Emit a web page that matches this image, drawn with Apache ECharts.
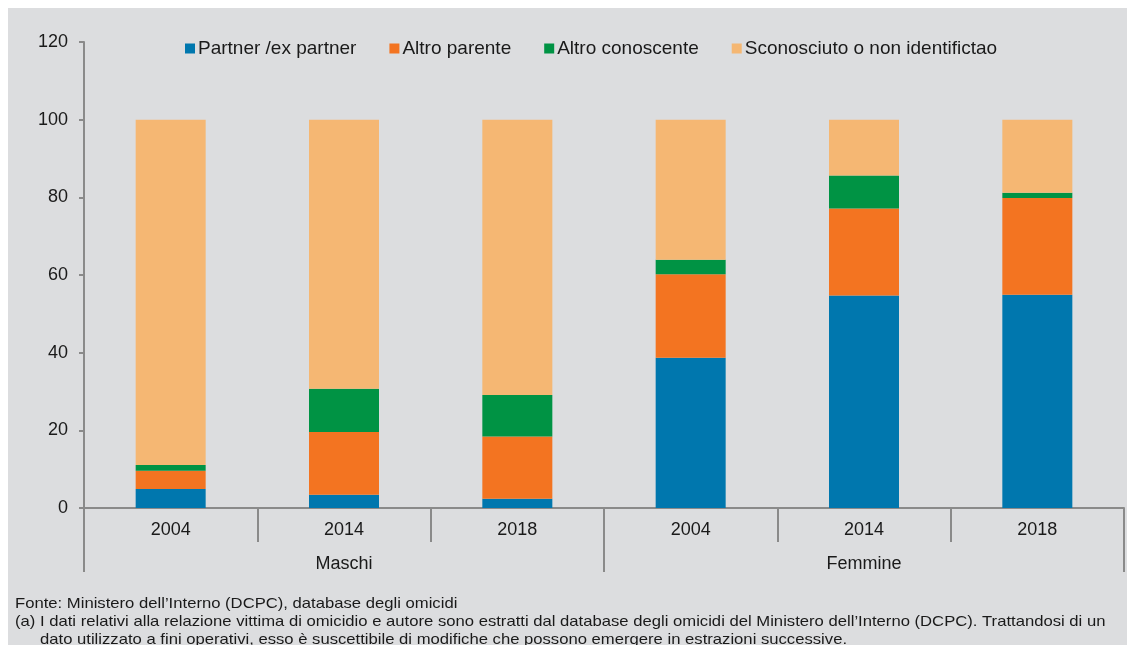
<!DOCTYPE html>
<html>
<head>
<meta charset="utf-8">
<script src="https://cdn.jsdelivr.net/npm/echarts@6/dist/echarts.min.js"></script>
<style>
  html, body { margin: 0; padding: 0; background: #ffffff; }
  #chart { position: absolute; left: 0; top: 0; width: 1127px; height: 645px; }
</style>
</head>
<body>
<div id="chart"></div>
<script>
// Relationship between victim and author of homicide, % by sex and year
const years = ['2004', '2014', '2018', '2004', '2014', '2018'];
const groups = ['Maschi', 'Femmine'];
const seriesNames = ['Partner /ex partner', 'Altro parente', 'Altro conoscente', 'Sconosciuto o non identifictao'];
const partner = [4.9, 3.4, 2.4, 38.7, 54.7, 54.9];
const altroParente = [4.7, 16.2, 16.0, 21.5, 22.4, 24.9];
const altroConoscente = [1.5, 11.1, 10.7, 3.7, 8.5, 1.4];
const sconosciuto = [88.9, 69.3, 70.9, 36.1, 14.4, 18.8];
const yTicks = [0, 20, 40, 60, 80, 100, 120];
const notes = [
  'Fonte: Ministero dell\u2019Interno (DCPC), database degli omicidi',
  '(a) I dati relativi alla relazione vittima di omicidio e autore sono estratti dal database degli omicidi del Ministero dell\u2019Interno (DCPC). Trattandosi di un',
  'dato utilizzato a fini operativi, esso \u00e8 suscettibile di modifiche che possono emergere in estrazioni successive.'
];

const colors = ['#0077ae', '#f37421', '#009344', '#f5b773'];
const values = [partner, altroParente, altroConoscente, sconosciuto];
const axisGray = '#8a8a8a';
const textColor = '#1a1a1a';
const font = 'Liberation Sans, Arial, sans-serif';

const chart = echarts.init(document.getElementById('chart'), null, { renderer: 'canvas' });

// footnote lines: x offset and top for each line
const noteX = [15, 15, 40];
const noteY = [596, 614, 632];
const noteGraphics = notes.map((t, i) => ({
  type: 'text', x: noteX[i], y: noteY[i], scaleX: 1.11, z: 10,
  style: { text: t, font: '15px ' + font, fill: textColor }
}));

chart.setOption({
  animation: false,
  backgroundColor: '#ffffff',
  textStyle: { fontFamily: font },
  graphic: [
    {
      type: 'rect', left: 8, top: 8, z: -10,
      shape: { width: 1119, height: 637 },
      style: { fill: '#dcdddf' }
    }
  ].concat(noteGraphics),
  legend: {
    left: 180, top: 34,
    itemWidth: 10, itemHeight: 10, itemGap: 33,
    icon: 'rect',
    textStyle: { fontSize: 19, color: textColor, fontFamily: font, padding: [0, 0, 0, -2] },
    data: seriesNames
  },
  grid: { left: 84, right: 3, top: 42, bottom: 137, containLabel: false },
  xAxis: [
    {
      type: 'category', data: years, position: 'bottom',
      axisLine: { show: true, lineStyle: { color: axisGray, width: 2 } },
      axisTick: { show: true, length: 34, interval: 0, lineStyle: { color: axisGray, width: 2 } },
      axisLabel: { fontSize: 18, color: textColor, margin: 13, interval: 0 }
    },
    {
      type: 'category', data: groups, position: 'bottom',
      axisLine: { show: false },
      axisTick: { show: true, length: 64, interval: 0, lineStyle: { color: axisGray, width: 2 } },
      axisLabel: { fontSize: 18, color: textColor, margin: 47 }
    }
  ],
  yAxis: {
    type: 'value', min: yTicks[0], max: yTicks[yTicks.length - 1], interval: 20,
    axisLine: { show: true, lineStyle: { color: axisGray, width: 2 } },
    axisTick: { show: true, length: 5, lineStyle: { color: axisGray, width: 2 } },
    axisLabel: { fontSize: 18, color: textColor, margin: 16 },
    splitLine: { show: false }
  },
  series: seriesNames.map((name, i) => ({
    name: name,
    type: 'bar',
    stack: 'total',
    xAxisIndex: 0,
    barWidth: 70,
    data: values[i],
    itemStyle: { color: colors[i] }
  }))
});
</script>
</body>
</html>
